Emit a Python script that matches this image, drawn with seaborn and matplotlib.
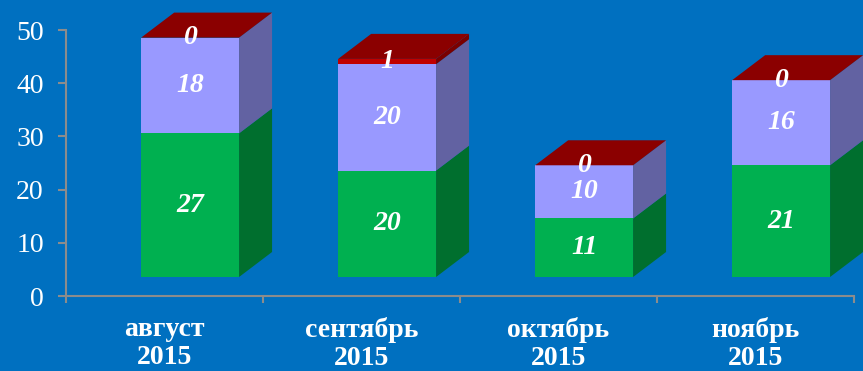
import numpy as np
import pandas as pd
import matplotlib
matplotlib.use("Agg")
import matplotlib.pyplot as plt
import seaborn as sns

categories = ["август\n2015", "сентябрь\n2015", "октябрь\n2015", "ноябрь\n2015"]
green_vals = [27, 20, 11, 21]
lavender_vals = [18, 20, 10, 16]
red_vals = [0, 1, 0, 0]
yticks = [0, 10, 20, 30, 40, 50]

BG = "#0070C0"
GRAY = "#8C8C8C"
FRONT = ["#00B050", "#9999FF", "#C00000"]
SIDE = ["#006F2E", "#6262A2", "#7A0000"]
TOP = "#8B0000"

sns.set_theme(style="white")
plt.rcParams["font.family"] = ["Liberation Serif", "DejaVu Serif"]

fig = plt.figure(figsize=(8.63, 3.71), dpi=100, facecolor=BG)
ax = fig.add_axes([66 / 863, 75 / 371, 788 / 863, 266 / 371], facecolor=BG)

n = len(categories)
idx = np.arange(n)
SHIFT = 0.13      # front face offset (x, data units)
LIFT = 3.57       # front face lift (y, data units)
DX, DY = 0.1675, 4.7   # depth offset
W = 0.497

pos = idx + SHIFT
series = [np.array(green_vals, float), np.array(lavender_vals, float), np.array(red_vals, float)]
bottoms = []
b = np.full(n, LIFT)
for s in series:
    bottoms.append(b.copy())
    b = b + s
tops = b

for k, (s, bt) in enumerate(zip(series, bottoms)):
    df = pd.DataFrame({"x": pos, "y": s})
    sns.barplot(data=df, x="x", y="y", native_scale=True, width=W, color=FRONT[k],
                saturation=1, bottom=bt, errorbar=None, linewidth=0, ax=ax, zorder=2)
    for i in range(n):
        if s[i] <= 0:
            continue
        xr = pos[i] + W / 2
        y0, y1 = bt[i], bt[i] + s[i]
        ax.fill([xr, xr, xr + DX, xr + DX], [y0, y1, y1 + DY, y0 + DY],
                color=SIDE[k], lw=0, zorder=2, clip_on=False)

for i in range(n):
    xl, xr = pos[i] - W / 2, pos[i] + W / 2
    t = tops[i]
    ax.fill([xl, xr, xr + DX, xl + DX], [t, t, t + DY, t + DY], color=TOP, lw=0,
            zorder=2, clip_on=False)

for s, bt in zip(series, bottoms):
    for i in range(n):
        ax.text(pos[i], bt[i] + s[i] / 2, f"{int(s[i])}", ha="center", va="center",
                color="white", fontsize=20, fontweight="bold", fontstyle="italic",
                zorder=5, clip_on=False)

ax.set_xlim(-0.5, n - 0.5)
ax.set_ylim(0, 50)
ax.set_yticks(yticks)
ax.set_yticklabels([str(v) for v in yticks])
ax.set_xticks(idx)
ax.set_xticklabels(categories, fontweight="bold", linespacing=1.15)
ax.set_xticks(np.arange(n + 1) - 0.5, minor=True)
ax.set_xlabel("")
ax.set_ylabel("")
ax.tick_params(axis="x", which="major", length=0, pad=15, labelsize=20, colors="white")
ax.tick_params(axis="x", which="minor", length=5, width=1.5, color=GRAY, direction="out", bottom=True)
ax.tick_params(axis="y", which="major", length=6, width=1.5, color=GRAY, direction="out",
               pad=10, labelsize=20, labelcolor="white", left=True)
for sp in ["top", "right"]:
    ax.spines[sp].set_visible(False)
for sp in ["left", "bottom"]:
    ax.spines[sp].set_color(GRAY)
    ax.spines[sp].set_linewidth(1.5)
ax.grid(False)

fig.savefig("out.png", dpi=100, facecolor=BG)
